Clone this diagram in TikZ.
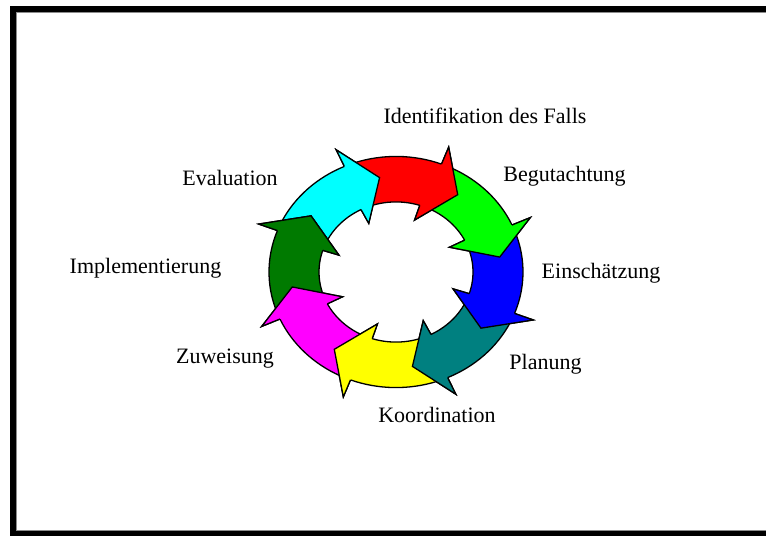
\documentclass[tikz,border=0pt]{standalone}
\usepackage{fontspec}
\setmainfont{Liberation Serif}
\definecolor{aCyan}{HTML}{00FFFF}
\definecolor{aRed}{HTML}{FF0000}
\definecolor{aGreen}{HTML}{00FF00}
\definecolor{aBlue}{HTML}{0000FF}
\definecolor{aTeal}{HTML}{008080}
\definecolor{aYellow}{HTML}{FFFF00}
\definecolor{aMagenta}{HTML}{FF00FF}
\definecolor{aDark}{HTML}{007A00}
\begin{document}
\begin{tikzpicture}[x=1pt,y=1pt,
  lbl/.style={anchor=base, inner sep=0pt, font=\fontsize{22}{22}\selectfont},
  edge/.style={draw=black, line width=1.3pt, line join=miter}]
\useasboundingbox (0,0) rectangle (766,-536);
\fill[white] (0,0) rectangle (766,-536);
% frame
\fill[black] (10,-6) rectangle (766,-12);
\fill[black] (10,-6) rectangle (16,-536);
\fill[black] (10,-531) rectangle (766,-536);
\draw[black!45, line width=0.8pt] (16.4,-530.6) -- (16.4,-12.4) -- (766,-12.4);
\draw[black!45, line width=0.8pt] (16,-530.6) -- (766,-530.6);
% ring of arrows
\begin{scope}[shift={(396,-272)}, yscale=0.91]
\foreach \T/\c in {152/aCyan,107/aRed,62/aGreen,17/aBlue,-28/aTeal,-73/aYellow,-118/aMagenta,-163/aDark}{
  \filldraw[fill=\c, edge]
    ({\T+2}:127) arc[start angle=\T+2, end angle=\T-38, radius=127]
    -- ({\T-38}:147) -- ({\T-53}:105) -- ({\T-35}:60) -- ({\T-35}:77)
    arc[start angle=\T-35, end angle=\T+8, radius=77] -- cycle;
}
\foreach \T/\c in {152/aCyan,107/aRed,62/aGreen,17/aBlue,-28/aTeal,-73/aYellow,-118/aMagenta,-163/aDark}{
  \fill[\c] ({\T-38}:127) -- ({\T-38}:147) -- ({\T-53}:105) -- ({\T-35}:60) -- ({\T-35}:77) -- cycle;
  \draw[edge] ({\T-38}:127) -- ({\T-38}:147) -- ({\T-53}:105) -- ({\T-35}:60) -- ({\T-35}:77);
}
\end{scope}
% labels
\node[lbl] (ident) at (485,-123) {Identifikation des Falls};
\node[lbl] (begut) at (564.5,-181) {Begutachtung};
\node[lbl] (einsch) at (601,-278) {Einschätzung};
\node[lbl] (plan) at (545.5,-369) {Planung};
\node[lbl] (koord) at (437,-422) {Koordination};
\node[lbl] (zuw) at (225,-363) {Zuweisung};
\node[lbl] (impl) at (145.5,-273) {Implementierung};
\node[lbl] (eval) at (230,-185) {Evaluation};
\end{tikzpicture}
\end{document}
